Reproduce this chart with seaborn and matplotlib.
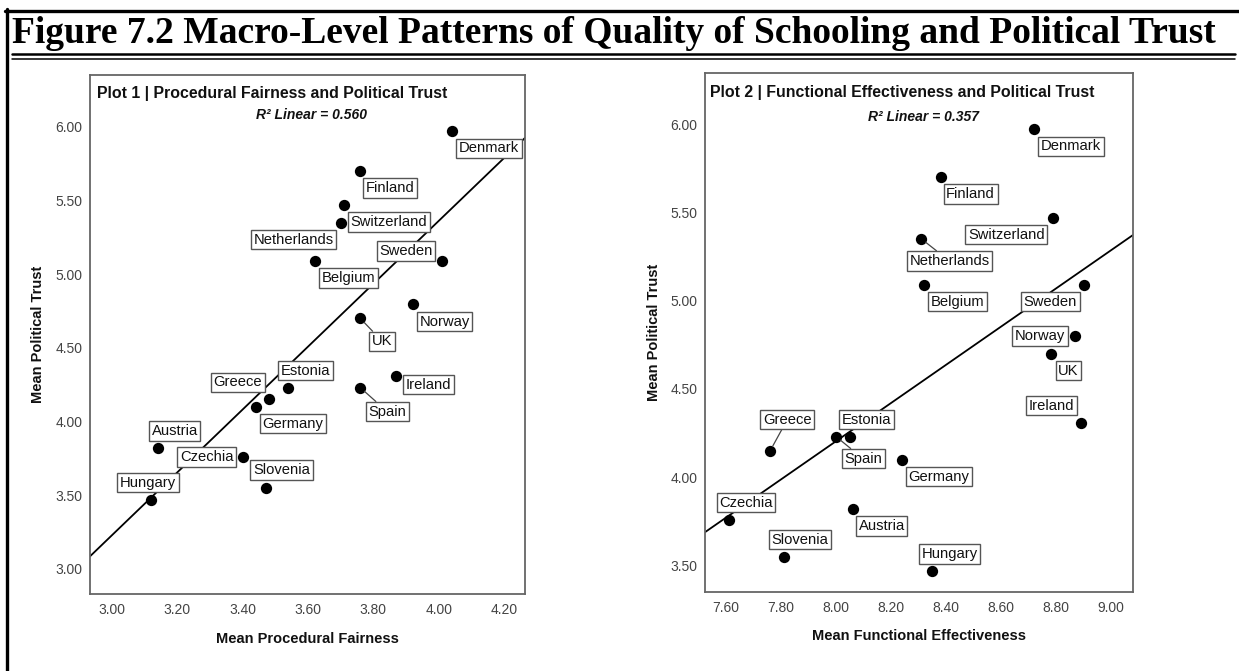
import numpy as np
import pandas as pd
import matplotlib.pyplot as plt
from matplotlib.lines import Line2D
import seaborn as sns

# ---------------- DATA ----------------
countries = ["Denmark", "Finland", "Switzerland", "Netherlands", "Belgium", "Sweden",
             "Norway", "UK", "Ireland", "Estonia", "Spain", "Greece", "Germany",
             "Austria", "Czechia", "Slovenia", "Hungary"]
political_trust = [5.97, 5.70, 5.47, 5.35, 5.09, 5.09,
                   4.80, 4.70, 4.31, 4.23, 4.23, 4.15, 4.10,
                   3.82, 3.76, 3.55, 3.47]
procedural_fairness = [4.04, 3.76, 3.71, 3.70, 3.62, 4.01,
                       3.92, 3.76, 3.87, 3.54, 3.76, 3.48, 3.44,
                       3.14, 3.40, 3.47, 3.12]
functional_effectiveness = [8.72, 8.38, 8.79, 8.31, 8.32, 8.90,
                            8.87, 8.78, 8.89, 8.05, 8.00, 7.76, 8.24,
                            8.06, 7.61, 7.81, 8.35]
r2_labels = ["0.560", "0.357"]
x_ticks_1 = [3.00, 3.20, 3.40, 3.60, 3.80, 4.00, 4.20]
x_ticks_2 = [7.60, 7.80, 8.00, 8.20, 8.40, 8.60, 8.80, 9.00]
y_ticks_1 = [3.00, 3.50, 4.00, 4.50, 5.00, 5.50, 6.00]
y_ticks_2 = [3.50, 4.00, 4.50, 5.00, 5.50, 6.00]

df = pd.DataFrame({
    "country": countries,
    "trust": political_trust,
    "procedural": procedural_fairness,
    "functional": functional_effectiveness,
})

# label box offsets from the point, in pixels (dx right, dy down)
offsets_1 = {
    "Denmark": (37, 17), "Finland": (30, 17), "Switzerland": (45, 17),
    "Netherlands": (-47, 17), "Sweden": (-36, -10), "Belgium": (34, 17),
    "Norway": (32, 18), "UK": (22, 23), "Estonia": (17, -17),
    "Greece": (-31, -17), "Germany": (37, 17), "Spain": (27, 24),
    "Ireland": (32, 9), "Austria": (17, -17), "Czechia": (-36, 0),
    "Slovenia": (16, -18), "Hungary": (-3, -17),
}
offsets_2 = {
    "Denmark": (37, 17), "Finland": (30, 17), "Switzerland": (-47, 17),
    "Netherlands": (28, 22), "Belgium": (33, 17), "Sweden": (-33, 17),
    "Norway": (-35, 0), "UK": (18, 17), "Ireland": (-29, -17),
    "Greece": (17, -31), "Estonia": (17, -17), "Spain": (27, 22),
    "Germany": (37, 17), "Czechia": (17, -17), "Austria": (29, 17),
    "Slovenia": (16, -17), "Hungary": (17, -17),
}
leaders_1 = {"UK", "Spain"}
leaders_2 = {"Netherlands", "Spain", "Greece"}

sns.set_theme(style="white")
plt.rcParams["font.family"] = ["Liberation Sans", "DejaVu Sans"]

fig = plt.figure(figsize=(12.39, 6.71), dpi=100)
W, H = 1239, 671


def px_axes(left, top, right, bottom):
    return fig.add_axes([left / W, 1 - bottom / H, (right - left) / W, (bottom - top) / H])


ax1 = px_axes(90, 75.3, 525, 594)
ax2 = px_axes(705.3, 72.7, 1132.7, 591.7)


def draw_panel(ax, xcol, xlim, ylim, xticks, yticks, offsets, leaders,
               title, r2, xlabel, title_x, title_y, r2_y):
    ax.set_xlim(*xlim)
    ax.set_ylim(*ylim)
    sns.regplot(data=df, x=xcol, y="trust", ax=ax, ci=None, truncate=False,
                scatter_kws=dict(s=66, color="black", alpha=1, linewidths=0, zorder=3),
                line_kws=dict(color="black", lw=1.3, zorder=2))
    ax.set_xlim(*xlim)
    ax.set_ylim(*ylim)

    for _, row in df.iterrows():
        dx, dy = offsets[row["country"]]
        arrow = None
        if row["country"] in leaders:
            arrow = dict(arrowstyle="-", color="#444444", lw=0.9, shrinkA=0, shrinkB=4)
        ax.annotate(row["country"], (row[xcol], row["trust"]),
                    xytext=(dx, -dy), textcoords="offset pixels",
                    ha="center", va="center", fontsize=10.6, color="#111111",
                    bbox=dict(boxstyle="square,pad=0.18", fc="white",
                              ec="#555555", lw=1.0),
                    arrowprops=arrow, zorder=4)

    ax.set_xticks(xticks)
    ax.set_yticks(yticks)
    ax.set_xticklabels([f"{v:.2f}" for v in xticks])
    ax.set_yticklabels([f"{v:.2f}" for v in yticks])
    ax.tick_params(direction="inout", length=7, width=1, color="#333333",
                   labelsize=10, labelcolor="#444444", pad=2)
    ax.tick_params(axis="x", pad=3)
    for sp in ax.spines.values():
        sp.set_color("#666666")
        sp.set_linewidth(1.3)

    ax.set_xlabel(xlabel, fontsize=10.5, fontweight="bold", color="#111111")
    ax.set_ylabel("Mean Political Trust", fontsize=10.5, fontweight="bold",
                  color="#111111")
    ax.xaxis.set_label_coords(0.5, -0.086)
    ax.xaxis.label.set_va("center")
    ax.yaxis.set_label_coords(-0.12, 0.5)
    ax.yaxis.label.set_va("center")

    ax.text(title_x, title_y, title, transform=ax.transAxes, ha="left",
            va="center", fontsize=11.4, fontweight="bold", color="#111111")
    ax.text(0.51, r2_y, "R\u00b2 Linear = " + r2, transform=ax.transAxes,
            ha="center", va="center", fontsize=10, fontweight="bold",
            fontstyle="italic", color="#111111")


draw_panel(ax1, "procedural", (2.933, 4.264), (2.830, 6.349), x_ticks_1, y_ticks_1,
           offsets_1, leaders_1, "Plot 1 | Procedural Fairness and Political Trust",
           r2_labels[0], "Mean Procedural Fairness", 0.017, 0.965, 0.923)
draw_panel(ax2, "functional", (7.524, 9.079), (3.352, 6.291), x_ticks_2, y_ticks_2,
           offsets_2, leaders_2, "Plot 2 | Functional Effectiveness and Political Trust",
           r2_labels[1], "Mean Functional Effectiveness", 0.012, 0.962, 0.915)

# outer frame and heading rules
fig.add_artist(Line2D([6.5 / W, 6.5 / W], [0, 1 - 9 / H], color="black", lw=2.4))
fig.add_artist(Line2D([5 / W, 1], [1 - 10.5 / H, 1 - 10.5 / H], color="black", lw=2.4))
fig.add_artist(Line2D([12 / W, 1235 / W], [1 - 54 / H, 1 - 54 / H], color="black", lw=1.8))
fig.add_artist(Line2D([12 / W, 1235 / W], [1 - 58.5 / H, 1 - 58.5 / H], color="black", lw=1.1))

fig.text(12 / W, 1 - 43 / H,
         "Figure 7.2 Macro-Level Patterns of Quality of Schooling and Political Trust",
         ha="left", va="baseline", fontsize=27, fontweight="bold",
         family=["Liberation Serif", "DejaVu Serif"], color="black")

fig.savefig("out.png", dpi=100)
